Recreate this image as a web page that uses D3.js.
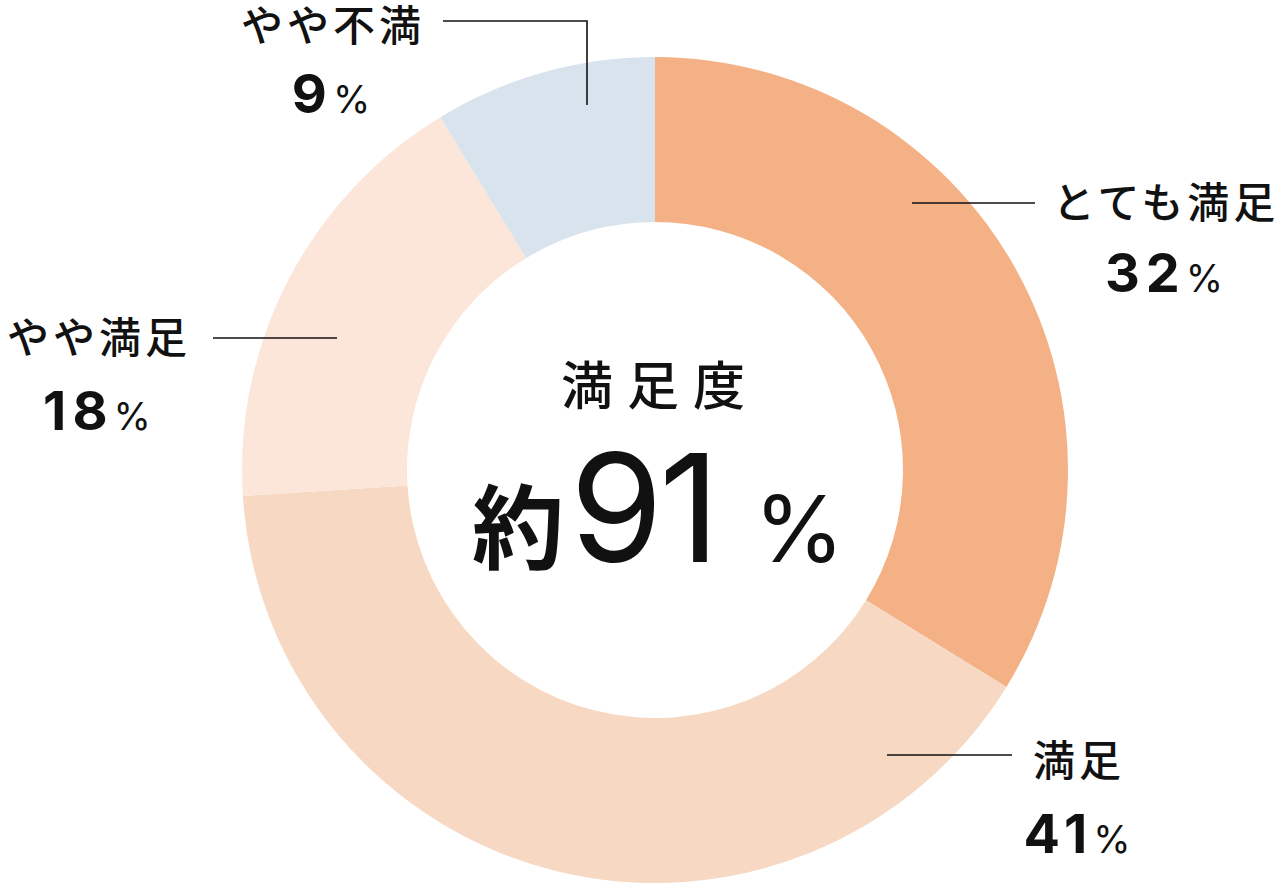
<!DOCTYPE html>
<html>
<head>
<meta charset="utf-8">
<script src="https://cdn.jsdelivr.net/npm/d3@7"></script>
<style>
  html, body { margin: 0; padding: 0; background: #fff; }
  svg { display: block; }
  .jp { font-family: "Noto Sans CJK JP", "Noto Sans", sans-serif; }
  .num { font-family: Inter, "Noto Sans", sans-serif; }
</style>
</head>
<body>
<script>
// chart data
var categories = ["とても満足", "満足", "やや満足", "やや不満"];
var shares     = [33.8, 40.2, 17.3, 8.7];      // slice sizes as drawn
var pctLabels  = ["32", "41", "18", "9"];      // printed percentages
var colors     = ["#f3b185", "#f7d8c3", "#fce6da", "#d9e3ee"];
var centerTitle = "満足度";
var centerValue = "91";

// where each label sits (layout only)
var labelPos = [
    {x: 1164, y: 218, py: 292, line: [[912, 203], [1035, 203]]},
    {x: 1077, y: 776, py: 853, line: [[887, 755], [1012, 755]]},
    {x: 97,   y: 353, py: 430, line: [[213, 338], [337, 338]]},
    {x: 331,  y: 41,  py: 113, line: [[443, 21], [587, 21], [587, 105]]}
];

var width = 1280, height = 885;
var cx = 655, cy = 470, outerR = 413, innerR = 248;

var svg = d3.select("body")
            .append("svg")
            .attr("width", width)
            .attr("height", height);

var pie = d3.pie().sort(null).value(function (d) { return d; });
var arc = d3.arc().innerRadius(innerR).outerRadius(outerR);

var g = svg.append("g").attr("transform", "translate(" + cx + "," + cy + ")");
g.selectAll("path")
    .data(pie(shares))
    .enter()
    .append("path")
    .attr("d", arc)
    .attr("fill", function (d, i) { return colors[i]; });

// leader lines
var line = d3.line();
svg.selectAll(".leader")
    .data(labelPos)
    .enter()
    .append("path")
    .attr("class", "leader")
    .attr("d", function (d) { return line(d.line); })
    .attr("fill", "none")
    .attr("stroke", "#111")
    .attr("stroke-width", 1.6);

// category names
var ls = 4;
svg.selectAll(".cat")
    .data(categories)
    .enter()
    .append("text")
    .attr("class", "jp cat")
    .attr("x", function (d, i) { return labelPos[i].x + ls / 2; })
    .attr("y", function (d, i) { return labelPos[i].y; })
    .attr("text-anchor", "middle")
    .attr("font-size", 42)
    .attr("font-weight", 500)
    .attr("letter-spacing", ls)
    .attr("fill", "#111")
    .text(function (d) { return d; });

// percentages
var pct = svg.selectAll(".pct")
    .data(pctLabels)
    .enter()
    .append("text")
    .attr("class", "num pct")
    .attr("x", function (d, i) { return labelPos[i].x; })
    .attr("y", function (d, i) { return labelPos[i].py; })
    .attr("text-anchor", "middle")
    .attr("fill", "#111");
pct.append("tspan")
    .attr("font-size", 54)
    .attr("font-weight", 700)
    .attr("letter-spacing", 6)
    .text(function (d) { return d; });
pct.append("tspan")
    .attr("font-size", 38)
    .attr("font-weight", 400)
    .text("%");

// center
svg.append("text")
    .attr("class", "jp")
    .attr("x", 653 + 7)
    .attr("y", 405)
    .attr("text-anchor", "middle")
    .attr("font-size", 52)
    .attr("font-weight", 500)
    .attr("letter-spacing", 14)
    .attr("fill", "#111")
    .text(centerTitle);

svg.append("text")
    .attr("class", "jp")
    .attr("x", 472)
    .attr("y", 562)
    .attr("font-size", 92)
    .attr("font-weight", 700)
    .attr("fill", "#111")
    .text("約");

svg.append("text")
    .attr("class", "num")
    .attr("x", 570)
    .attr("y", 562)
    .attr("font-size", 150)
    .attr("font-weight", 400)
    .attr("letter-spacing", -4)
    .attr("fill", "#111")
    .text(centerValue);

svg.append("text")
    .attr("class", "num")
    .attr("x", 754)
    .attr("y", 562)
    .attr("font-size", 92)
    .attr("font-weight", 400)
    .attr("fill", "#111")
    .text("%");
</script>
</body>
</html>
